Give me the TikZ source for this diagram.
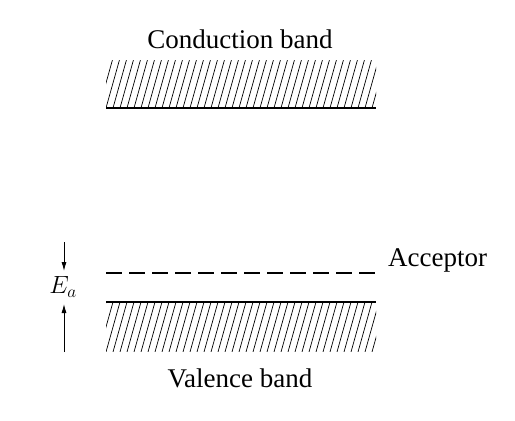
\documentclass[tikz,border=0pt]{standalone}
\usepackage{fontspec}
\setmainfont{Liberation Serif}
\usetikzlibrary{arrows.meta}

\newcommand*{\bandleft}{106}
\newcommand*{\bandright}{376}

\begin{document}
\begin{tikzpicture}
[
	x=1pt,y=-1pt,
	bandline/.style={line width=1.5pt},
	hatch/.style={line width=0.7pt},
	label/.style={font=\fontsize{27}{30}\selectfont,inner sep=0pt},
	gap/.style={-{Latex[length=9pt,width=5pt]},line width=0.9pt}
]
	\useasboundingbox (0,0) rectangle (515,421);

	% conduction band
	\node[label] (cb) at (240,39) {Conduction band};
	\begin{scope}
		\clip (\bandleft,60) rectangle (\bandright,108);
		\foreach \x in {92,99,...,380}
			\draw[hatch] (\x,108) -- (\x+14,58);
	\end{scope}
	\draw[bandline] (\bandleft,108) -- (\bandright,108);

	% acceptor level
	\draw[bandline,dash pattern=on 16pt off 7pt] (\bandleft,273) -- (\bandright,273);
	\node[label,anchor=west] (acc) at (388,260) {Acceptor};

	% valence band
	\draw[bandline] (\bandleft,302) -- (\bandright,302);
	\begin{scope}
		\clip (\bandleft,302) rectangle (\bandright,351);
		\foreach \x in {92,99,...,380}
			\draw[hatch] (\x,352) -- (\x+14,302);
	\end{scope}
	\node[label] (vb) at (240,378) {Valence band};

	% activation energy
	\node[label] (ea) at (63,287) {$E_a$};
	\coordinate (downtop) at (64,242);
	\coordinate (downtip) at (64,271);
	\coordinate (upbot) at (64,352);
	\coordinate (uptip) at (64,304);
	\draw[gap] (downtop) -- (downtip);
	\draw[gap] (upbot) -- (uptip);

\end{tikzpicture}
\end{document}
